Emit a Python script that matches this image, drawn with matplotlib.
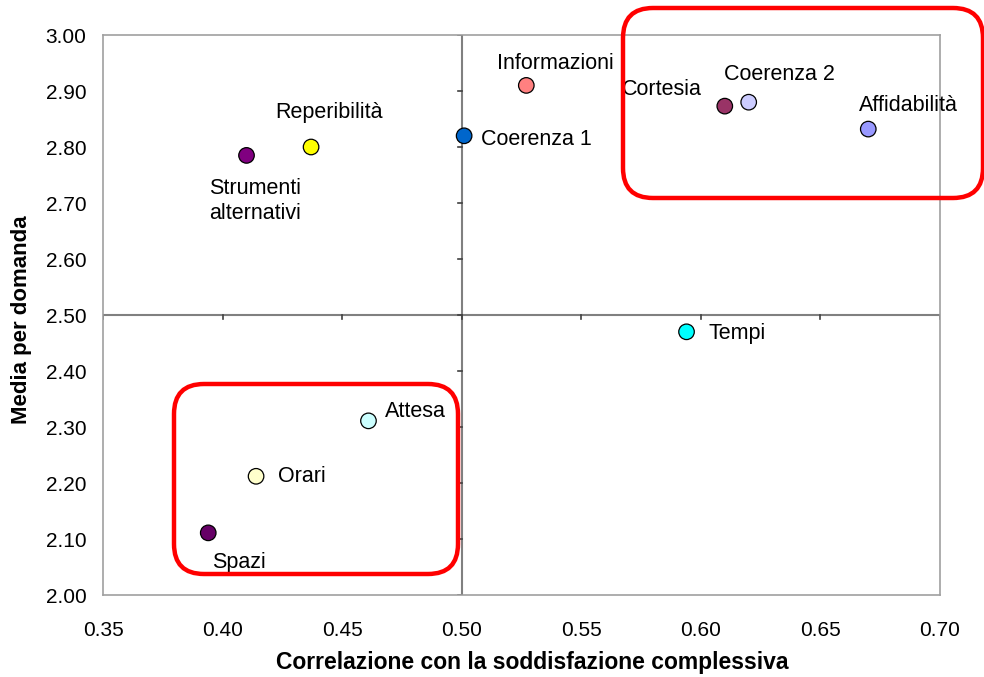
import matplotlib
matplotlib.use("Agg")
import matplotlib.pyplot as plt
from matplotlib.patches import FancyBboxPatch

plt.rcParams["font.family"] = ["Liberation Sans", "DejaVu Sans"]

# ── data ──────────────────────────────────────────────────────────
labels = ["Informazioni", "Coerenza 1", "Reperibilità", "Strumenti\nalternativi",
          "Cortesia", "Coerenza 2", "Affidabilità", "Tempi",
          "Attesa", "Orari", "Spazi"]
corr = [0.527, 0.501, 0.437, 0.410, 0.610, 0.620, 0.670, 0.594, 0.461, 0.414, 0.394]
media = [2.91, 2.82, 2.80, 2.785, 2.873, 2.880, 2.832, 2.470, 2.311, 2.212, 2.111]
colors = ["#FF8080", "#0066CC", "#FFFF00", "#800080", "#993366", "#CCCCFF",
          "#9999FF", "#00FFFF", "#CCFFFF", "#FFFFCC", "#660066"]

# label offsets (points) and alignment
offsets = [(21, 16), (12, -3), (13, 25), (6, -33), (-45, 12), (22, 20),
           (29, 17), (16, -1), (12, 7), (16, 0), (22, -21)]
aligns = ["center", "left", "center", "center", "center", "center",
          "center", "left", "left", "left", "center"]

x_ticks = [0.35, 0.40, 0.45, 0.50, 0.55, 0.60, 0.65, 0.70]
y_ticks = [2.00, 2.10, 2.20, 2.30, 2.40, 2.50, 2.60, 2.70, 2.80, 2.90, 3.00]

fig = plt.figure(figsize=(9.84, 6.77), dpi=100)
ax = fig.add_axes([0.1047, 0.1211, 0.8506, 0.8272])

ax.set_xlim(0.35, 0.70)
ax.set_ylim(2.00, 3.00)
for s in ax.spines.values():
    s.set_color("#A0A0A0")
    s.set_linewidth(1.2)

# crossing axes at 0.50 / 2.50
ax.axvline(0.50, color="#808080", lw=1.5, zorder=1)
ax.axhline(2.50, color="#808080", lw=1.5, zorder=1)
for yt in y_ticks:
    ax.plot([0.4985, 0.50], [yt, yt], color="#404040", lw=1.2, zorder=1)
for xt in x_ticks:
    ax.plot([xt, xt], [2.493, 2.50], color="#404040", lw=1.2, zorder=1)

ax.set_xticks(x_ticks)
ax.set_yticks(y_ticks)
ax.set_xticklabels([f"{v:.2f}" for v in x_ticks])
ax.set_yticklabels([f"{v:.2f}" for v in y_ticks])
ax.tick_params(length=0, labelsize=15, pad=12)
ax.tick_params(axis="x", pad=19)

ax.scatter(corr, media, s=125, c=colors, edgecolors="black", linewidths=0.9,
           zorder=3, clip_on=False)

for x, y, lab, off, ha in zip(corr, media, labels, offsets, aligns):
    ax.annotate(lab, (x, y), xytext=off, textcoords="offset points",
                ha=ha, va="center", fontsize=15.5, linespacing=1.25, zorder=4)

fig.text(532 / 984, 1 - 663 / 677, "Correlazione con la soddisfazione complessiva",
         fontsize=16.5, fontweight="bold", ha="center", va="center")
fig.text(22 / 984, 1 - 320 / 677, "Media per domanda", rotation=90,
         fontsize=16, fontweight="bold", ha="center", va="center")

# red highlight boxes, in pixel space
ov = fig.add_axes([0, 0, 1, 1], facecolor="none")
ov.set_xlim(0, 984)
ov.set_ylim(677, 0)
ov.axis("off")
boxes = [(623, 8, 360, 190), (174, 384, 284, 190)]
for bx, by, bw, bh in boxes:
    ov.add_patch(FancyBboxPatch((bx + 30, by + 30), bw - 60, bh - 60,
                                boxstyle="round,pad=30,rounding_size=30",
                                fill=False, ec="#FF0000", lw=3.2))

fig.savefig("out.png", dpi=100)
